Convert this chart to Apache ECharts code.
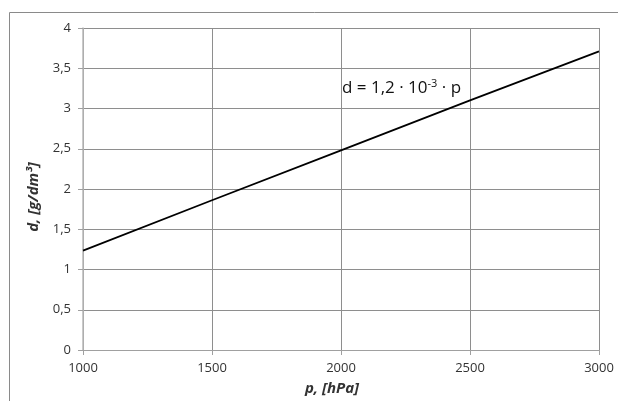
<!DOCTYPE html>
<html>
<head>
<meta charset="utf-8">
<script src="https://cdn.jsdelivr.net/npm/echarts@6/dist/echarts.min.js"></script>
<style>html,body{margin:0;padding:0;background:#fff}#c{width:618px;height:401px}</style>
</head>
<body>
<div id="c"></div>
<script>
var pressure = [1000, 1500, 2000, 2500, 3000];
var density = [1.235, 1.86, 2.48, 3.1, 3.71];
var xTitle = 'p, [hPa]';
var yTitle = 'd, [g/dm³]';
var formulaMain = 'd = 1,2 · 10';
var formulaExp = '-3';
var formulaTail = ' · p';

var chart = echarts.init(document.getElementById('c'), null, {renderer: 'canvas'});
var font = "'Open Sans', sans-serif";
chart.setOption({
  animation: false,
  backgroundColor: '#fff',
  grid: {left: 83, right: 19, top: 28, bottom: 51, containLabel: false},
  xAxis: {
    type: 'value', min: 1000, max: 3000, interval: 500,
    axisLine: {show: true, onZero: false, lineStyle: {color: '#a0a0a0', width: 1}},
    axisTick: {show: true, length: 5, lineStyle: {color: '#a0a0a0'}},
    axisLabel: {color: '#333', fontFamily: font, fontSize: 13, margin: 12,
      formatter: function (v) { return String(v); }},
    splitLine: {show: true, lineStyle: {color: '#8e8e8e', width: 1}}
  },
  yAxis: {
    type: 'value', min: 0, max: 4, interval: 0.5,
    axisLine: {show: true, lineStyle: {color: '#b8b8b8', width: 1.5}},
    axisTick: {show: true, length: 5, lineStyle: {color: '#a0a0a0'}},
    axisLabel: {color: '#333', fontFamily: font, fontSize: 13, margin: 12,
      formatter: function (v) { return String(v).replace('.', ','); }},
    splitLine: {show: true, lineStyle: {color: '#8e8e8e', width: 1}}
  },
  series: [{
    type: 'line',
    data: pressure.map(function (p, i) { return [p, density[i]]; }),
    showSymbol: false,
    lineStyle: {color: '#000', width: 1.8},
    z: 5
  }],
  graphic: [
    {type: 'rect', z: -1, shape: {x: 9.5, y: 12.5, width: 700, height: 500},
     style: {fill: 'none', stroke: '#8a8a8a', lineWidth: 1}},
    {type: 'text', x: 332, y: 389,
     style: {text: xTitle, fill: '#333', font: "italic bold 15px 'Open Sans', sans-serif",
       textAlign: 'center', textVerticalAlign: 'middle'}},
    {type: 'text', x: 34, y: 197, rotation: Math.PI / 2,
     style: {text: yTitle, fill: '#333', font: "italic bold 15px 'Open Sans', sans-serif",
       textAlign: 'center', textVerticalAlign: 'middle'}},
    {type: 'text', x: 342, y: 88,
     style: {
       text: '{m|' + formulaMain + '}{s|' + formulaExp + '}{m|' + formulaTail + '}',
       textVerticalAlign: 'middle',
       rich: {
         m: {fontFamily: font, fontSize: 17, fill: '#111', color: '#111'},
         s: {fontFamily: font, fontSize: 11, fill: '#111', color: '#111', verticalAlign: 'top', padding: [0, 0, 9, 0]}
       }
     }}
  ]
});
</script>
</body>
</html>
